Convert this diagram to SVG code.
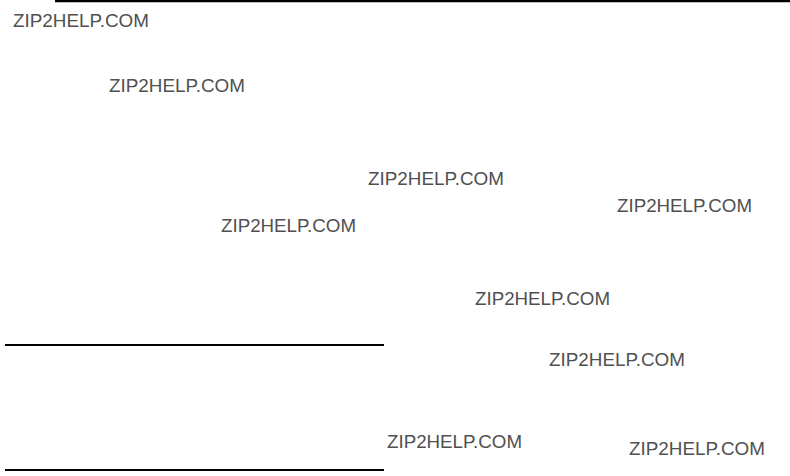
<svg xmlns="http://www.w3.org/2000/svg" width="790" height="476" viewBox="0 0 790 476">
<style>
.wm{font-family:"Liberation Sans",Arial,sans-serif;font-size:19px;fill:#505050;}
.rule{stroke:#000;stroke-width:2.2;}
</style>
<rect width="790" height="476" fill="#fff"/>
<g id="rules">
<line class="rule" x1="55" y1="1.2" x2="790" y2="1.2"/>
<line class="rule" x1="5" y1="345" x2="384" y2="345"/>
<line class="rule" x1="5" y1="470" x2="384" y2="470"/>
</g>
<g id="watermarks">
<text class="wm" x="13" y="27" textLength="136" lengthAdjust="spacingAndGlyphs">ZIP2HELP.COM</text>
<text class="wm" x="109" y="92" textLength="136" lengthAdjust="spacingAndGlyphs">ZIP2HELP.COM</text>
<text class="wm" x="368" y="185" textLength="136" lengthAdjust="spacingAndGlyphs">ZIP2HELP.COM</text>
<text class="wm" x="221" y="232" textLength="135" lengthAdjust="spacingAndGlyphs">ZIP2HELP.COM</text>
<text class="wm" x="617" y="212" textLength="135" lengthAdjust="spacingAndGlyphs">ZIP2HELP.COM</text>
<text class="wm" x="475" y="305" textLength="135" lengthAdjust="spacingAndGlyphs">ZIP2HELP.COM</text>
<text class="wm" x="549" y="366" textLength="136" lengthAdjust="spacingAndGlyphs">ZIP2HELP.COM</text>
<text class="wm" x="387" y="448" textLength="135" lengthAdjust="spacingAndGlyphs">ZIP2HELP.COM</text>
<text class="wm" x="629" y="455" textLength="136" lengthAdjust="spacingAndGlyphs">ZIP2HELP.COM</text>
</g>
</svg>
